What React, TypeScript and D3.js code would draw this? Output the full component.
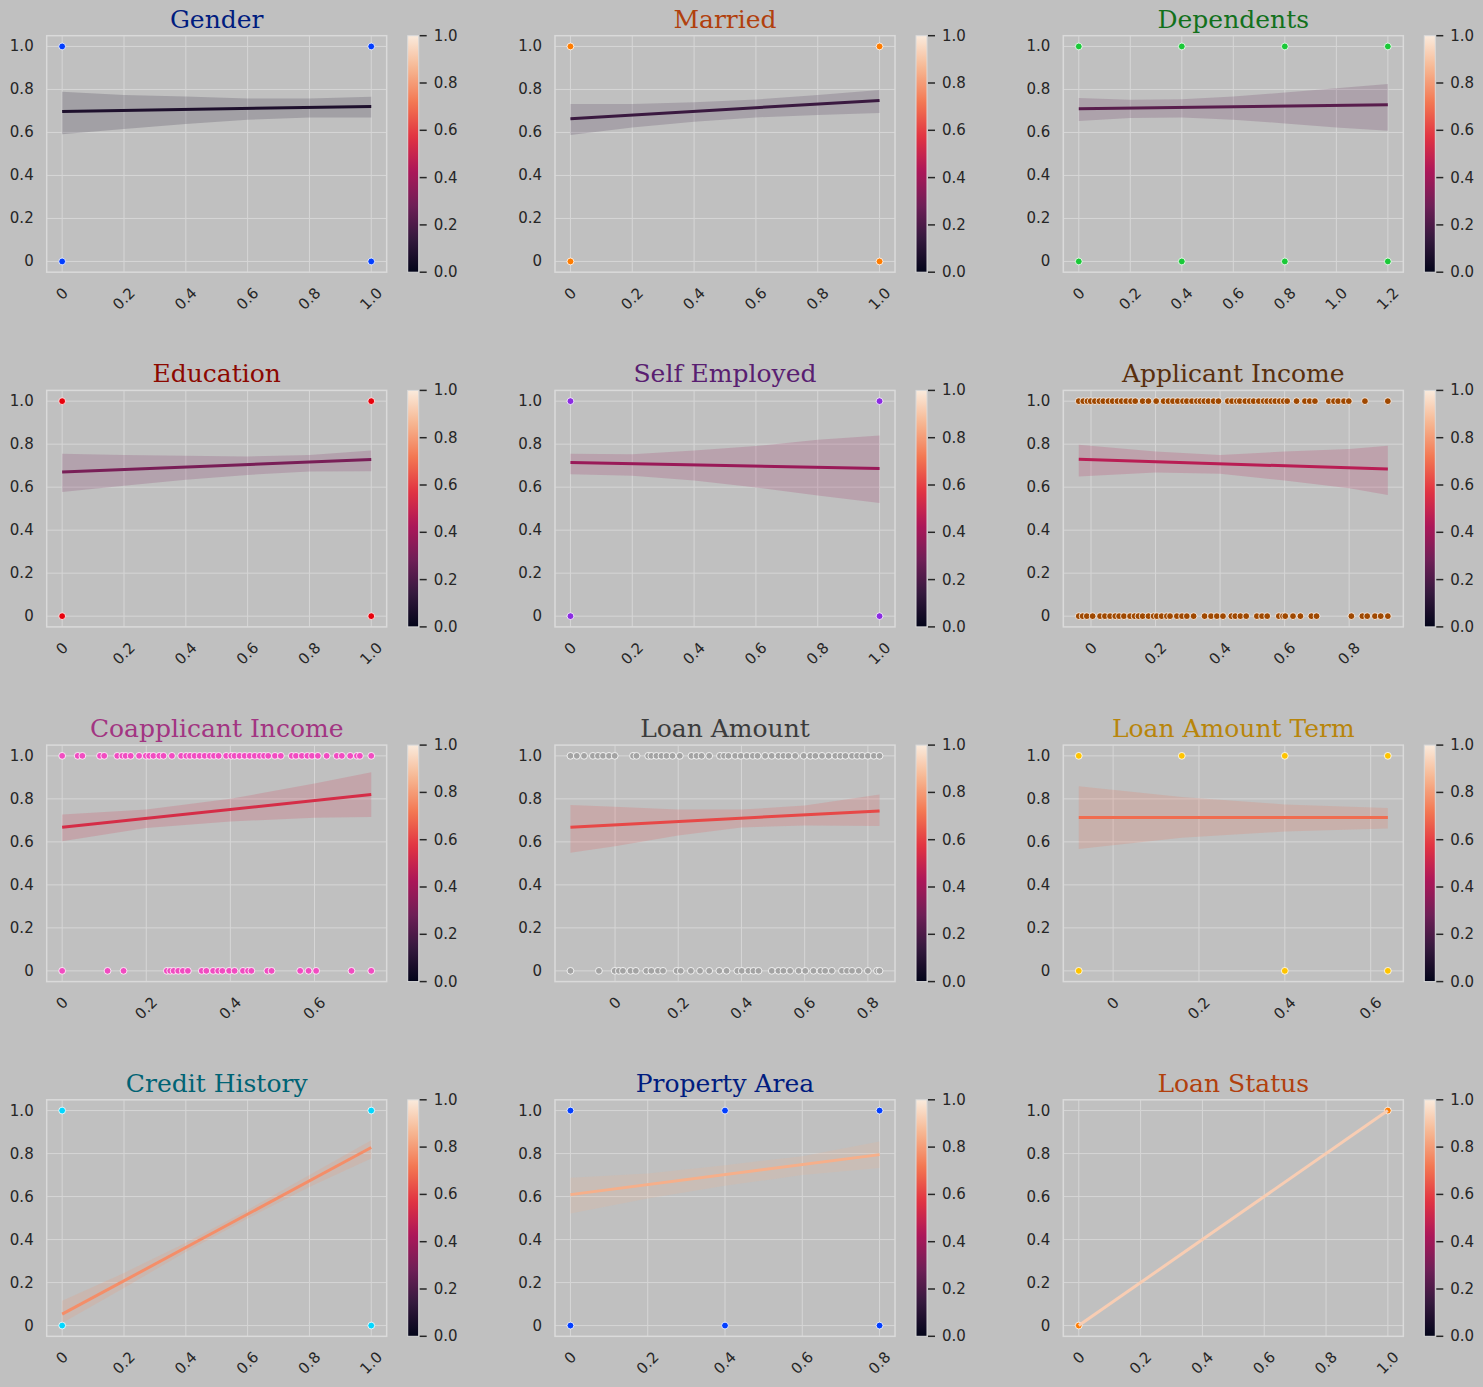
import React from 'react'
import * as d3 from 'd3'

const W = 1483
const H = 1387

const titles = ['Gender', 'Married', 'Dependents', 'Education', 'Self Employed', 'Applicant Income',
  'Coapplicant Income', 'Loan Amount', 'Loan Amount Term', 'Credit History', 'Property Area', 'Loan Status']
const titleColors = ['#001c7f', '#b1400d', '#12711c', '#8c0800', '#591e71', '#592f0d',
  '#a23582', '#3c3c3c', '#b8850a', '#006374', '#001c7f', '#b1400d']
const pointColors = ['#023eff', '#ff7c00', '#1ac938', '#e8000b', '#8b2be2', '#9f4800',
  '#f14cc1', '#a3a3a3', '#ffc400', '#00d7ff', '#023eff', '#ff7c00']

// rocket colormap anchor colours
const rocketStops = [0, 1 / 7, 2 / 7, 3 / 7, 4 / 7, 5 / 7, 6 / 7, 1]
const rocketColors = ['#03051a', '#35193e', '#701f57', '#ad1759', '#e13342', '#f37651', '#f6b48f', '#faebdd']

const ticksUnit = [0, 0.2, 0.4, 0.6, 0.8, 1.0]
const ticksDependents = [0, 0.2, 0.4, 0.6, 0.8, 1.0, 1.2]
const ticksTo08 = [0, 0.2, 0.4, 0.6, 0.8]
const ticksTo06 = [0, 0.2, 0.4, 0.6]
const yTicks = [0, 0.2, 0.4, 0.6, 0.8, 1.0]
const cbarTicks = [0, 0.2, 0.4, 0.6, 0.8, 1.0]

// scatter positions (x) for target = 1 and target = 0
const binaryPts = [0, 1]
const dependentsPts = [0, 0.4, 0.8, 1.2]
const applicantYes = [-0.038, -0.024, -0.011, -0.001, 0.012, 0.026, 0.038, 0.054, 0.067, 0.082, 0.095, 0.109,
  0.124, 0.137, 0.160, 0.178, 0.202, 0.225, 0.240, 0.254, 0.269, 0.285, 0.297, 0.313, 0.328, 0.339, 0.351,
  0.364, 0.380, 0.395, 0.424, 0.437, 0.452, 0.461, 0.478, 0.492, 0.504, 0.520, 0.535, 0.546, 0.559, 0.571,
  0.585, 0.597, 0.608, 0.637, 0.663, 0.678, 0.694, 0.737, 0.753, 0.766, 0.784, 0.799, 0.849, 0.920]
const applicantNo = [-0.038, -0.026, -0.013, 0.005, 0.028, 0.043, 0.059, 0.075, 0.087, 0.102, 0.121, 0.135,
  0.147, 0.160, 0.178, 0.194, 0.204, 0.219, 0.235, 0.245, 0.266, 0.282, 0.297, 0.318, 0.352, 0.372, 0.390,
  0.409, 0.435, 0.447, 0.463, 0.481, 0.514, 0.530, 0.546, 0.582, 0.595, 0.602, 0.626, 0.649, 0.683, 0.699,
  0.807, 0.841, 0.856, 0.880, 0.898, 0.920]
const coapplicantYes = [0, 0.037, 0.048, 0.090, 0.100, 0.131, 0.143, 0.151, 0.163, 0.183, 0.199, 0.207, 0.217,
  0.231, 0.241, 0.261, 0.283, 0.295, 0.304, 0.315, 0.327, 0.339, 0.351, 0.361, 0.372, 0.390, 0.402, 0.410,
  0.422, 0.434, 0.446, 0.458, 0.470, 0.480, 0.490, 0.506, 0.520, 0.546, 0.556, 0.570, 0.583, 0.594, 0.608,
  0.629, 0.653, 0.665, 0.685, 0.701, 0.708, 0.735]
const coapplicantNo = [0, 0.108, 0.146, 0.249, 0.257, 0.265, 0.276, 0.287, 0.299, 0.332, 0.343, 0.359, 0.371,
  0.381, 0.397, 0.410, 0.430, 0.442, 0.450, 0.488, 0.498, 0.566, 0.586, 0.604, 0.688, 0.735]
const loanAmountYes = [-0.141, -0.121, -0.098, -0.070, -0.054, -0.038, -0.019, -0.001, 0.057, 0.068, 0.105,
  0.115, 0.131, 0.147, 0.163, 0.182, 0.205, 0.242, 0.258, 0.274, 0.298, 0.332, 0.345, 0.359, 0.380, 0.398,
  0.417, 0.436, 0.451, 0.475, 0.496, 0.517, 0.533, 0.549, 0.570, 0.597, 0.618, 0.634, 0.655, 0.676, 0.697,
  0.713, 0.729, 0.750, 0.766, 0.782, 0.800, 0.819, 0.837]
const loanAmountNo = [-0.141, -0.051, -0.001, 0.012, 0.025, 0.049, 0.066, 0.099, 0.115, 0.136, 0.152, 0.195,
  0.208, 0.240, 0.269, 0.298, 0.330, 0.353, 0.387, 0.401, 0.422, 0.438, 0.454, 0.496, 0.517, 0.533, 0.554,
  0.581, 0.602, 0.628, 0.650, 0.665, 0.686, 0.718, 0.734, 0.750, 0.771, 0.800, 0.829, 0.837]
const termYes = [-0.08, 0.16, 0.40, 0.64]
const termNo = [-0.08, 0.40, 0.64]
const propertyPts = [0, 0.4, 0.8]

// regression fits: value at min x, value at max x
const fitEnds = [
  [0.698, 0.721], [0.664, 0.749], [0.710, 0.729], [0.670, 0.729], [0.715, 0.687], [0.730, 0.684],
  [0.668, 0.820], [0.668, 0.744], [0.713, 0.713], [0.053, 0.828], [0.609, 0.795], [0, 1],
]

// confidence bands: sample x, lower, upper
const bandXs = [
  ticksUnit, ticksUnit, ticksDependents, ticksUnit, ticksUnit, [-0.038, 0.2, 0.4, 0.6, 0.8, 0.92],
  [0, 0.2, 0.4, 0.6, 0.735], [-0.141, 0, 0.2, 0.4, 0.6, 0.837], [-0.08, 0.16, 0.40, 0.64], ticksUnit, ticksTo08, [0, 1],
]
const bandLo = [
  [0.592, 0.616, 0.639, 0.659, 0.670, 0.670],
  [0.588, 0.623, 0.650, 0.670, 0.681, 0.690],
  [0.653, 0.667, 0.670, 0.659, 0.642, 0.623, 0.608],
  [0.578, 0.606, 0.634, 0.657, 0.673, 0.674],
  [0.660, 0.653, 0.631, 0.598, 0.561, 0.526],
  [0.650, 0.668, 0.662, 0.631, 0.595, 0.564],
  [0.603, 0.665, 0.695, 0.712, 0.716],
  [0.549, 0.580, 0.629, 0.667, 0.676, 0.674],
  [0.567, 0.619, 0.648, 0.662],
  [0.012, 0.175, 0.342, 0.498, 0.645, 0.777],
  [0.521, 0.591, 0.650, 0.700, 0.733],
  [0, 1],
]
const bandHi = [
  [0.789, 0.774, 0.767, 0.758, 0.758, 0.766],
  [0.732, 0.732, 0.740, 0.753, 0.774, 0.798],
  [0.760, 0.752, 0.755, 0.767, 0.786, 0.806, 0.825],
  [0.755, 0.750, 0.746, 0.743, 0.750, 0.771],
  [0.755, 0.753, 0.771, 0.791, 0.820, 0.840],
  [0.797, 0.766, 0.750, 0.766, 0.778, 0.792],
  [0.727, 0.750, 0.800, 0.871, 0.924],
  [0.771, 0.763, 0.750, 0.750, 0.769, 0.820],
  [0.859, 0.809, 0.774, 0.758],
  [0.115, 0.245, 0.385, 0.538, 0.700, 0.862],
  [0.688, 0.707, 0.746, 0.788, 0.856],
  [0, 1],
]

const onesX = [binaryPts, binaryPts, dependentsPts, binaryPts, binaryPts, applicantYes,
  coapplicantYes, loanAmountYes, termYes, binaryPts, propertyPts, [1]]
const zerosX = [binaryPts, binaryPts, dependentsPts, binaryPts, binaryPts, applicantNo,
  coapplicantNo, loanAmountNo, termNo, binaryPts, propertyPts, [0]]
const xTicks = [ticksUnit, ticksUnit, ticksDependents, ticksUnit, ticksUnit, ticksTo08,
  ticksTo06, ticksTo08, ticksTo06, ticksUnit, ticksTo08, ticksUnit]

const rocket = d3.scaleLinear<string>().domain(rocketStops).range(rocketColors).interpolate(d3.interpolateRgb)

const AX_W = 340
const AX_H = 236.5
const GRID = '#d6d6d6'
const TEXT = '#262626'
const SANS = 'DejaVu Sans, sans-serif'
const SERIF = 'DejaVu Serif, serif'
const FS = 15

const fmt = (v: number) => (v === 0 ? '0' : v.toFixed(1))
const textWidth = (s: string) => s.split('').reduce((a, c) => a + (c === '.' ? 0.318 : 0.636), 0) * FS

function Panel({ i }: { i: number }) {
  const col = i % 3
  const row = Math.floor(i / 3)
  const left = 46.7 + col * 508.3
  const top = 35.7 + row * 354.7
  const bottom = top + AX_H
  const all = [...onesX[i], ...zerosX[i]]
  const [mn, mx] = d3.extent(all) as [number, number]
  const pad = (mx - mn) * 0.05
  const x = d3.scaleLinear().domain([mn - pad, mx + pad]).range([left, left + AX_W])
  const y = d3.scaleLinear().domain([-0.05, 1.05]).range([bottom, top])
  const lineColor = rocket((i + 1) / 13)

  const bx = bandXs[i]
  const band = d3.area<number>()
    .x((_, k) => x(bx[k]))
    .y0((_, k) => y(bandLo[i][k]))
    .y1((_, k) => y(bandHi[i][k]))(bx)
  const fit = d3.line<[number, number]>().x(d => x(d[0])).y(d => y(d[1]))([[mn, fitEnds[i][0]], [mx, fitEnds[i][1]]])

  const cbX = left + 361
  const cb = d3.scaleLinear().domain([0, 1]).range([bottom, top])

  return (
    <g>
      <text x={left + AX_W / 2} y={top - 8} textAnchor="middle" fontFamily={SERIF} fontSize={25} fill={titleColors[i]}>
        {titles[i]}
      </text>
      {xTicks[i].map(t => (
        <line key={'gx' + t} x1={x(t)} x2={x(t)} y1={top} y2={bottom} stroke={GRID} strokeWidth={1} />
      ))}
      {yTicks.map(t => (
        <line key={'gy' + t} x1={left} x2={left + AX_W} y1={y(t)} y2={y(t)} stroke={GRID} strokeWidth={1} />
      ))}
      <rect x={left} y={top} width={AX_W} height={AX_H} fill="none" stroke="#dadada" strokeWidth={1.5} />
      {onesX[i].map((v, k) => (
        <circle key={'p1' + k} cx={x(v)} cy={y(1)} r={3.4} fill={pointColors[i]} stroke="#ffffff" strokeWidth={0.8} />
      ))}
      {zerosX[i].map((v, k) => (
        <circle key={'p0' + k} cx={x(v)} cy={y(0)} r={3.4} fill={pointColors[i]} stroke="#ffffff" strokeWidth={0.8} />
      ))}
      <path d={band || ''} fill={lineColor} fillOpacity={0.18} stroke="none" />
      <path d={fit || ''} fill="none" stroke={lineColor} strokeWidth={3} />
      {yTicks.map(t => (
        <text key={'ly' + t} x={left - 13} y={y(t)} textAnchor="end" dominantBaseline="central"
          fontFamily={SANS} fontSize={FS} fill={TEXT}>{fmt(t)}</text>
      ))}
      {xTicks[i].map(t => {
        const s = fmt(t)
        const cy = bottom + 14 + (textWidth(s) + 12) / (2 * Math.SQRT2)
        return (
          <text key={'lx' + t} x={x(t)} y={cy} textAnchor="middle" dominantBaseline="central"
            transform={`rotate(-45 ${x(t)} ${cy})`} fontFamily={SANS} fontSize={FS} fill={TEXT}>{s}</text>
        )
      })}
      <rect x={cbX} y={top} width={11} height={AX_H} fill="url(#rocketGrad)" stroke="#dadada" strokeWidth={1} />
      {cbarTicks.map(t => (
        <g key={'cb' + t}>
          <line x1={cbX + 12} x2={cbX + 19} y1={cb(t)} y2={cb(t)} stroke={TEXT} strokeWidth={1.5} />
          <text x={cbX + 26} y={cb(t)} dominantBaseline="central" fontFamily={SANS} fontSize={FS} fill={TEXT}>
            {t.toFixed(1)}
          </text>
        </g>
      ))}
    </g>
  )
}

export default function App() {
  const stops = d3.range(0, 1.0001, 0.02)
  return (
    <svg width={W} height={H} style={{ position: 'absolute', left: 0, top: 0, display: 'block' }}>
      <defs>
        <linearGradient id="rocketGrad" x1="0" y1="1" x2="0" y2="0">
          {stops.map(s => <stop key={s} offset={s} stopColor={rocket(s)} />)}
        </linearGradient>
      </defs>
      <rect x={0} y={0} width={W} height={H} fill="#c0c0c0" />
      {titles.map((_, i) => <Panel key={i} i={i} />)}
    </svg>
  )
}
